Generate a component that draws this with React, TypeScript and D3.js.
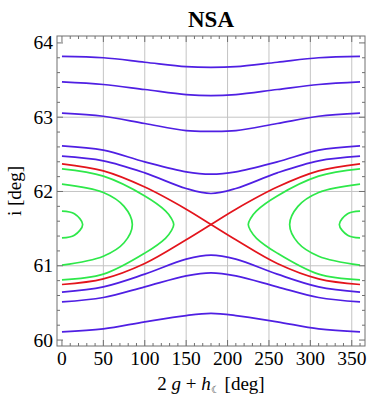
import React, { useEffect, useRef } from 'react';
import * as d3 from 'd3';

// sample angles (deg) for the open (rotating) curves
const xs = [0, 50, 100, 150, 180, 210, 260, 310, 360];

// blue curves above the resonance
const blueTop1 = [63.82, 63.8, 63.74, 63.68, 63.67, 63.68, 63.74, 63.8, 63.82];
const blueTop2 = [63.475, 63.44, 63.373, 63.305, 63.29, 63.305, 63.373, 63.44, 63.475];
const blueTop3 = [63.054, 63.013, 62.915, 62.82, 62.81, 62.82, 62.915, 63.013, 63.054];
const blueTop4 = [62.614, 62.556, 62.398, 62.264, 62.233, 62.264, 62.398, 62.556, 62.614];
const blueTop5 = [62.475, 62.412, 62.25, 62.04, 61.973, 62.04, 62.25, 62.412, 62.475];
// blue curves below
const blueBot1 = [60.645, 60.716, 60.887, 61.089, 61.143, 61.089, 60.887, 60.716, 60.645];
const blueBot2 = [60.514, 60.573, 60.716, 60.864, 60.905, 60.864, 60.716, 60.573, 60.514];
const blueBot3 = [60.11, 60.15, 60.245, 60.33, 60.358, 60.33, 60.245, 60.15, 60.11];

// separatrix branches
const redDown = [62.372, 62.277, 62.06, 61.762, 61.556, 61.35, 61.031, 60.824, 60.748];
const redUp = [60.748, 60.824, 61.031, 61.35, 61.556, 61.762, 62.06, 62.277, 62.372];

// librating (closed) curves around 0 deg, [angle, inclination]
const greenOuter: [number, number][] = [
  [0, 62.304], [50, 62.206], [100, 61.94], [125, 61.74], [132, 61.64], [135, 61.556],
  [132, 61.47], [125, 61.37], [100, 61.17], [50, 60.887], [0, 60.81],
];
const greenMid: [number, number][] = [
  [0, 62.1], [50, 61.987], [75, 61.8], [85, 61.556], [75, 61.31], [50, 61.129], [0, 61.008],
];
const greenInner: [number, number][] = [
  [0, 61.735], [15, 61.7], [25, 61.556], [15, 61.41], [0, 61.375],
];

const xTicks = [0, 50, 100, 150, 200, 250, 300, 350];
const yTicks = [60, 61, 62, 63, 64];

const BLUE = '#4f1fe3';
const RED = '#e3141c';
const GREEN = '#2ee84a';
const FONT = '"Liberation Serif", "DejaVu Serif", serif';

export default function App() {
  const svgRef = useRef<SVGSVGElement | null>(null);

  useEffect(() => {
    const svg = d3.select(svgRef.current);
    svg.selectAll('*').remove();

    const left = 57, right = 365, top = 36, bottom = 346;
    const x = d3.scaleLinear().domain([-6, 366]).range([left, right]);
    const y = d3.scaleLinear().domain([59.92, 64.093]).range([bottom, top]);

    // gridlines
    const grid = svg.append('g').attr('stroke', '#c4c4c4').attr('stroke-width', 1);
    xTicks.filter(t => t > 0).forEach(t => {
      grid.append('line').attr('x1', x(t)).attr('x2', x(t)).attr('y1', top).attr('y2', bottom);
    });
    [61, 62, 63].forEach(t => {
      grid.append('line').attr('x1', left).attr('x2', right).attr('y1', y(t)).attr('y2', y(t));
    });

    const g = svg.append('g').attr('fill', 'none').attr('stroke-width', 1.7);
    const line = d3.line<[number, number]>()
      .x(d => x(d[0]))
      .y(d => y(d[1]))
      .curve(d3.curveCatmullRom.alpha(0.5));

    const openCurve = (vals: number[], color: string) => {
      g.append('path')
        .datum(xs.map((v, i) => [v, vals[i]] as [number, number]))
        .attr('stroke', color)
        .attr('d', line);
    };

    [greenOuter, greenMid, greenInner].forEach(pts => {
      g.append('path').datum(pts).attr('stroke', GREEN).attr('d', line);
      g.append('path')
        .datum(pts.map(p => [360 - p[0], p[1]] as [number, number]))
        .attr('stroke', GREEN)
        .attr('d', line);
    });
    openCurve(redDown, RED);
    openCurve(redUp, RED);
    [blueTop1, blueTop2, blueTop3, blueTop4, blueTop5, blueBot1, blueBot2, blueBot3]
      .forEach(c => openCurve(c, BLUE));

    // frame with inward ticks
    const frame = svg.append('g').attr('stroke', '#707070').attr('stroke-width', 1);
    frame.append('rect')
      .attr('x', left).attr('y', top)
      .attr('width', right - left).attr('height', bottom - top)
      .attr('fill', 'none');
    d3.range(0, 361, 10).forEach(t => {
      const len = t % 50 === 0 ? 6 : 3;
      frame.append('line').attr('x1', x(t)).attr('x2', x(t)).attr('y1', bottom).attr('y2', bottom - len);
      frame.append('line').attr('x1', x(t)).attr('x2', x(t)).attr('y1', top).attr('y2', top + len);
    });
    d3.range(0, 21).forEach(k => {
      const t = 60 + k * 0.2;
      const len = k % 5 === 0 ? 6 : 3;
      frame.append('line').attr('x1', left).attr('x2', left + len).attr('y1', y(t)).attr('y2', y(t));
      frame.append('line').attr('x1', right).attr('x2', right - len).attr('y1', y(t)).attr('y2', y(t));
    });

    // tick labels
    const labels = svg.append('g').attr('font-family', FONT).attr('font-size', 19.5).attr('fill', '#000');
    xTicks.forEach(t => {
      labels.append('text').attr('x', x(t)).attr('y', 365).attr('text-anchor', 'middle').text(String(t));
    });
    yTicks.forEach(t => {
      labels.append('text').attr('x', 53).attr('y', y(t) + 6.5).attr('text-anchor', 'end').text(String(t));
    });

    // title
    svg.append('text')
      .attr('x', (left + right) / 2).attr('y', 27)
      .attr('text-anchor', 'middle')
      .attr('font-family', FONT).attr('font-size', 23).attr('font-weight', 'bold')
      .text('NSA');

    // x label: 2 g + h☾ [deg]
    const xl = svg.append('text')
      .attr('x', (left + right) / 2).attr('y', 390)
      .attr('text-anchor', 'middle')
      .attr('font-family', FONT).attr('font-size', 19);
    xl.append('tspan').text('2 ');
    xl.append('tspan').attr('font-style', 'italic').text('g');
    xl.append('tspan').text(' + ');
    xl.append('tspan').attr('font-style', 'italic').text('h');
    xl.append('tspan').attr('font-size', 10).attr('dy', 3).text('☾');
    xl.append('tspan').attr('dy', -3).text(' [deg]');

    // y label
    svg.append('text')
      .attr('transform', `translate(21,${(top + bottom) / 2}) rotate(-90)`)
      .attr('text-anchor', 'middle')
      .attr('font-family', FONT).attr('font-size', 19)
      .text('i [deg]');
  }, []);

  return (
    <svg
      ref={svgRef}
      width={380}
      height={405}
      style={{ position: 'absolute', left: 0, top: 0, background: '#fff' }}
    />
  );
}
